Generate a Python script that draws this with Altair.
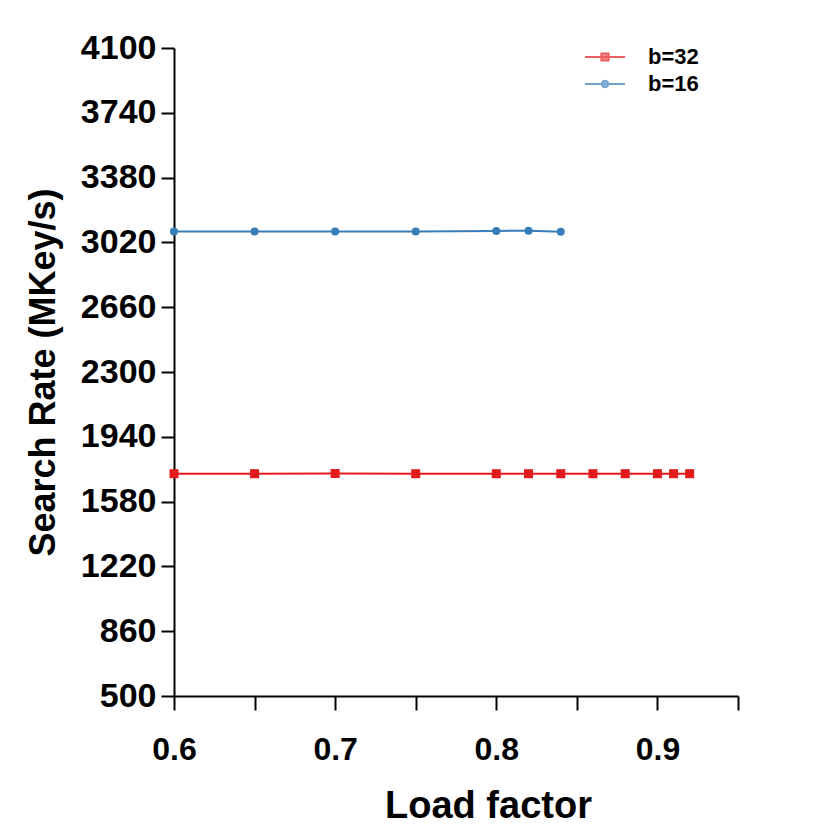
import altair as alt
import pandas as pd

# ---- data ----
series_names = ["b=32", "b=16"]
series_colors = ["#E41A1C", "#377EB8"]

lf_b32 = [0.60, 0.65, 0.70, 0.75, 0.80, 0.82, 0.84, 0.86, 0.88, 0.90, 0.91, 0.92]
rate_b32 = [1735, 1735, 1736, 1735, 1735, 1735, 1735, 1735, 1735, 1735, 1735, 1735]

lf_b16 = [0.60, 0.65, 0.70, 0.75, 0.80, 0.82, 0.84]
rate_b16 = [3080, 3080, 3080, 3081, 3084, 3085, 3079]

x_ticks = [0.6, 0.65, 0.7, 0.75, 0.8, 0.85, 0.9, 0.95]
y_ticks = [500, 860, 1220, 1580, 1940, 2300, 2660, 3020, 3380, 3740, 4100]

legend_paths = [
    "M-2.5,0H2.5M-0.45,-0.45H0.45V0.45H-0.45Z",
    "M-2.5,0H2.5M-0.4,0C-0.4,-0.2209 -0.2209,-0.4 0,-0.4C0.2209,-0.4 0.4,-0.2209 0.4,0"
    "C0.4,0.2209 0.2209,0.4 0,0.4C-0.2209,0.4 -0.4,0.2209 -0.4,0Z",
]

df = pd.DataFrame({
    "lf": lf_b32 + lf_b16,
    "rate": rate_b32 + rate_b16,
    "series": [series_names[0]] * len(lf_b32) + [series_names[1]] * len(lf_b16),
})

FONT = "Liberation Sans"

x_enc = alt.X(
    "lf:Q",
    scale=alt.Scale(domain=[0.6, 0.95], nice=False, zero=False),
    axis=alt.Axis(
        values=x_ticks,
        labelExpr="abs(datum.value*10 - round(datum.value*10)) < 0.001 ? format(datum.value, '.1f') : ''",
        labelFlush=False,
        labelOverlap=False,
        labelFontSize=32,
        labelPadding=24,
        tickSize=14,
        title="Load factor",
        titleFontSize=38,
        titleX=314,
        titleY=121,
        titleBaseline="alphabetic",
    ),
)
y_enc = alt.Y(
    "rate:Q",
    scale=alt.Scale(domain=[500, 4100], nice=False, zero=False),
    axis=alt.Axis(
        values=y_ticks,
        format="d",
        labelOverlap=False,
        labelFontSize=34,
        labelPadding=5,
        tickSize=13,
        title="Search Rate (MKey/s)",
        titleFontSize=36,
        titleX=-120,
        titleY=324,
        titleBaseline="alphabetic",
    ),
)

base = alt.Chart(df)

# one layer per series with fixed colours, so no disabled colour legend swallows the real one
line32 = base.mark_line(strokeWidth=2, color=series_colors[0]).encode(
    x=x_enc, y=y_enc
).transform_filter(alt.datum.series == series_names[0])

line16 = base.mark_line(strokeWidth=2, color=series_colors[1]).encode(
    x=x_enc, y=y_enc
).transform_filter(alt.datum.series == series_names[1])

pts32 = base.mark_point(filled=True, shape="square", size=81, opacity=1,
                        color=series_colors[0]).encode(
    x=x_enc, y=y_enc
).transform_filter(alt.datum.series == series_names[0])

pts16 = base.mark_point(filled=True, shape="circle", size=64, opacity=1,
                        color=series_colors[1]).encode(
    x=x_enc, y=y_enc
).transform_filter(alt.datum.series == series_names[1])

leg = alt.Legend(
    title=None,
    orient="none",
    legendX=420,
    legendY=-2,
    symbolSize=256,
    symbolStrokeWidth=2,
    labelOffset=32,
    labelFont=FONT,
    labelFontSize=22,
    labelFontWeight="bold",
    labelColor="black",
    rowPadding=5,
)

# legend-only layer: no rows survive the filter, the legend comes from the explicit domains
legend_layer = base.mark_point(filled=True, strokeWidth=2).encode(
    x=x_enc, y=y_enc,
    fill=alt.Fill("series:N", scale=alt.Scale(domain=series_names, range=series_colors), legend=leg),
    stroke=alt.Stroke("series:N", scale=alt.Scale(domain=series_names, range=series_colors), legend=leg),
    shape=alt.Shape("series:N", scale=alt.Scale(domain=series_names, range=legend_paths), legend=leg),
).transform_filter("datum.rate < 0")

chart = alt.layer(line32, line16, pts32, pts16, legend_layer).properties(
    width=564,
    height=648,
    autosize=alt.AutoSizeParams(type="none"),
    padding={"left": 166, "top": 40, "right": 84, "bottom": 126},
    background="white",
).configure_view(stroke=None).configure_axis(
    grid=False,
    domainColor="black",
    domainWidth=2,
    tickColor="black",
    tickWidth=2,
    labelFont=FONT,
    labelFontWeight="bold",
    labelColor="black",
    titleFont=FONT,
    titleFontWeight="bold",
    titleColor="black",
)

chart.save("out.html", embed_options={"renderer": "svg", "actions": False})
